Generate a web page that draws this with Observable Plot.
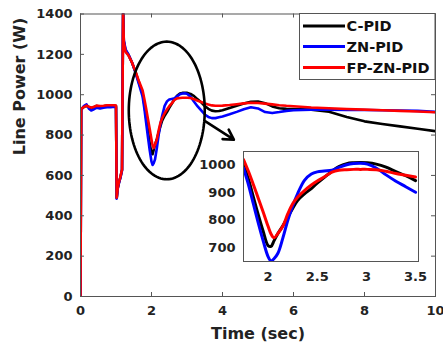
<!DOCTYPE html>
<html><head><meta charset="utf-8">
<script src="https://cdn.jsdelivr.net/npm/d3@7"></script>
<script src="https://cdn.jsdelivr.net/npm/@observablehq/plot@0.6"></script>
<style>
html,body{margin:0;padding:0;background:#fff;}
#chart{position:relative;width:443px;height:353px;overflow:hidden;background:#fff;}
#chart svg{position:absolute;left:0;top:0;}
</style></head><body><div id="chart"></div>
<script>
// ---- data ----
const time = [0,0.02,0.1,0.17,0.24,0.3,0.38,0.45,0.55,0.65,0.75,0.85,0.95,1.0,1.02,1.05,1.08,1.12,1.17,1.2,1.22,1.27,1.35,1.45,1.55,1.65,1.75,1.8,1.85,1.9,1.95,2.0,2.03,2.06,2.1,2.15,2.2,2.25,2.3,2.37,2.44,2.5,2.57,2.65,2.72,2.8,2.87,2.94,3.01,3.1,3.2,3.3,3.4,3.5,3.6,3.7,3.8,3.9,4.0,4.2,4.4,4.6,4.8,5.0,5.2,5.4,5.6,5.8,6.0,6.5,7.0,7.5,8.0,8.5,9.0,9.5,10.0];
const cPID =    [0,928,940,945,938,934,938,944,942,943,946,946,946,944,488,538,562,588,628,1420,1265,1218,1198,1160,1112,1058,1005,950,885,820,760,708,705,725,752,780,811,843,872,896,915,935,955,978,995,1006,1009,1010,1009,1004,993,977,962,944,930,921,918,919,923,934,945,956,965,966,958,942,933,930,929,926,916,890,868,855,843,831,819];
const znPID =   [0,925,945,952,930,922,928,935,932,936,938,938,940,938,485,535,560,585,625,1420,1270,1225,1200,1160,1110,1050,990,930,860,790,725,668,652,660,680,735,799,852,896,945,968,976,979,982,992,1002,1006,1007,1004,990,965,942,922,902,890,884,884,888,892,903,915,928,938,932,914,909,914,920,923,926,926,925,924,923,922,920,915];
const fpznPID = [0,930,940,946,940,936,940,946,944,945,948,948,948,946,490,540,565,590,630,1420,1260,1212,1195,1160,1115,1065,1021,978,930,880,830,778,750,736,752,778,823,860,884,908,928,943,957,975,982,984,985,985,985,984,978,970,964,957,951,947,945,945,946,949,953,957,960,959,956,952,948,945,943,937,933,929,926,923,920,917,913];
const seriesNames = ["C-PID","ZN-PID","FP-ZN-PID"];
const seriesColors = ["#000000","#0000ff","#ff0000"];
const xTicks = [0,2,4,6,8,10];
const yTicks = [0,200,400,600,800,1000,1200,1400];
const insetXTicks = [2,2.5,3,3.5];
const insetYTicks = [700,800,900,1000];
const insetXDomain = [1.75,3.53];
const insetYDomain = [650,1050];
const ellipseCenter = [2.43,922];
const ellipseRadii = [1.07,341];
const arrowFrom = [3.52,868];
const arrowTo = [4.32,777];

// ---- build ----
const seriesValues = [cPID, znPID, fpznPID];
const rows = seriesNames.flatMap((s,i)=>time.map((t,j)=>({t, v: seriesValues[i][j], s})));
const insetRows = rows.filter(d => d.t >= insetXDomain[0] && d.t <= insetXDomain[1]);
const ellipsePts = d3.range(0, 361, 3).map(a => ({
  t: ellipseCenter[0] + ellipseRadii[0]*Math.cos(a*Math.PI/180),
  v: ellipseCenter[1] + ellipseRadii[1]*Math.sin(a*Math.PI/180)
}));
const font = "'DejaVu Sans', sans-serif";
const axisCol = "#555";
const W = 443, H = 353;
const mL = 80, mR = 8, mT = 13.5, mB = 57;
const pw = W - mL - mR, ph = H - mT - mB;
const tk = 4;

const main = Plot.plot({
  width: W, height: H, marginLeft: mL, marginRight: mR, marginTop: mT, marginBottom: mB,
  style: {fontFamily: font, fontSize: "13px", fontWeight: "bold", color: "#222", background: "white", overflow: "visible"},
  x: {domain: [0,10]},
  y: {domain: [0,1400]},
  color: {domain: seriesNames, range: seriesColors},
  marks: [
    Plot.line(rows, {x: "t", y: "v", z: "s", stroke: "s", strokeWidth: 2.6, clip: true}),
    Plot.line(ellipsePts, {x: "t", y: "v", stroke: "#000", strokeWidth: 2.6}),
    Plot.arrow([{x1: arrowFrom[0], y1: arrowFrom[1], x2: arrowTo[0], y2: arrowTo[1]}], {x1: "x1", y1: "y1", x2: "x2", y2: "y2", stroke: "#000", strokeWidth: 2.6, headLength: 10}),
    Plot.frame({stroke: axisCol}),
    Plot.tickY(yTicks, {y: d => d, stroke: axisCol, insetRight: pw - tk}),
    Plot.tickY(yTicks, {y: d => d, stroke: axisCol, insetLeft: pw - tk}),
    Plot.tickX(xTicks, {x: d => d, stroke: axisCol, insetTop: ph - tk}),
    Plot.tickX(xTicks, {x: d => d, stroke: axisCol, insetBottom: ph - tk}),
    Plot.axisX({ticks: xTicks, tickSize: 0, tickPadding: 9, tickFormat: d => String(d), label: null}),
    Plot.axisY({ticks: yTicks, tickSize: 0, tickPadding: 8, tickFormat: d => String(d), label: null}),
    Plot.text(["Time (sec)"], {frameAnchor: "bottom", dy: 42, fontSize: 16, fontWeight: "bold", fill: "#222"}),
    Plot.text(["Line Power (W)"], {frameAnchor: "left", rotate: -90, dx: -60.5, fontSize: 16, fontWeight: "bold", fill: "#222"})
  ]
});
document.getElementById("chart").appendChild(main);

const iL = 243, iR = 418, iT = 151, iB = 261;
const inset = Plot.plot({
  width: W, height: H, marginLeft: iL, marginRight: W - iR, marginTop: iT, marginBottom: H - iB,
  style: {fontFamily: font, fontSize: "13px", fontWeight: "bold", color: "#222", background: "transparent", overflow: "visible"},
  x: {domain: insetXDomain},
  y: {domain: insetYDomain},
  color: {domain: seriesNames, range: seriesColors},
  marks: [
    Plot.frame({fill: "white", stroke: "none"}),
    Plot.line(insetRows, {x: "t", y: "v", z: "s", stroke: "s", strokeWidth: 3, clip: true, curve: "catmull-rom"}),
    Plot.frame({stroke: axisCol}),
    Plot.axisX({ticks: insetXTicks, tickSize: 0, tickPadding: 10, tickFormat: d => String(d), label: null}),
    Plot.axisY({ticks: insetYTicks, tickSize: 0, tickPadding: 8, tickFormat: d => String(d), label: null})
  ]
});
document.getElementById("chart").appendChild(inset);

// legend
const leg = d3.create("svg").attr("width", W).attr("height", H)
  .style("font-family", font).style("font-weight", "bold").style("font-size", "14.5px");
leg.append("rect").attr("x", 299.5).attr("y", 13.5).attr("width", 135.5).attr("height", 66)
  .attr("fill", "white").attr("stroke", axisCol);
const legY = [26, 46.5, 67.5];
seriesNames.forEach((s, i) => {
  leg.append("line").attr("x1", 303).attr("x2", 345).attr("y1", legY[i]).attr("y2", legY[i])
    .attr("stroke", seriesColors[i]).attr("stroke-width", 3);
  leg.append("text").attr("x", 346.5).attr("y", legY[i]).attr("dy", "0.36em").attr("fill", "#111").text(s);
});
document.getElementById("chart").appendChild(leg.node());
</script></body></html>
